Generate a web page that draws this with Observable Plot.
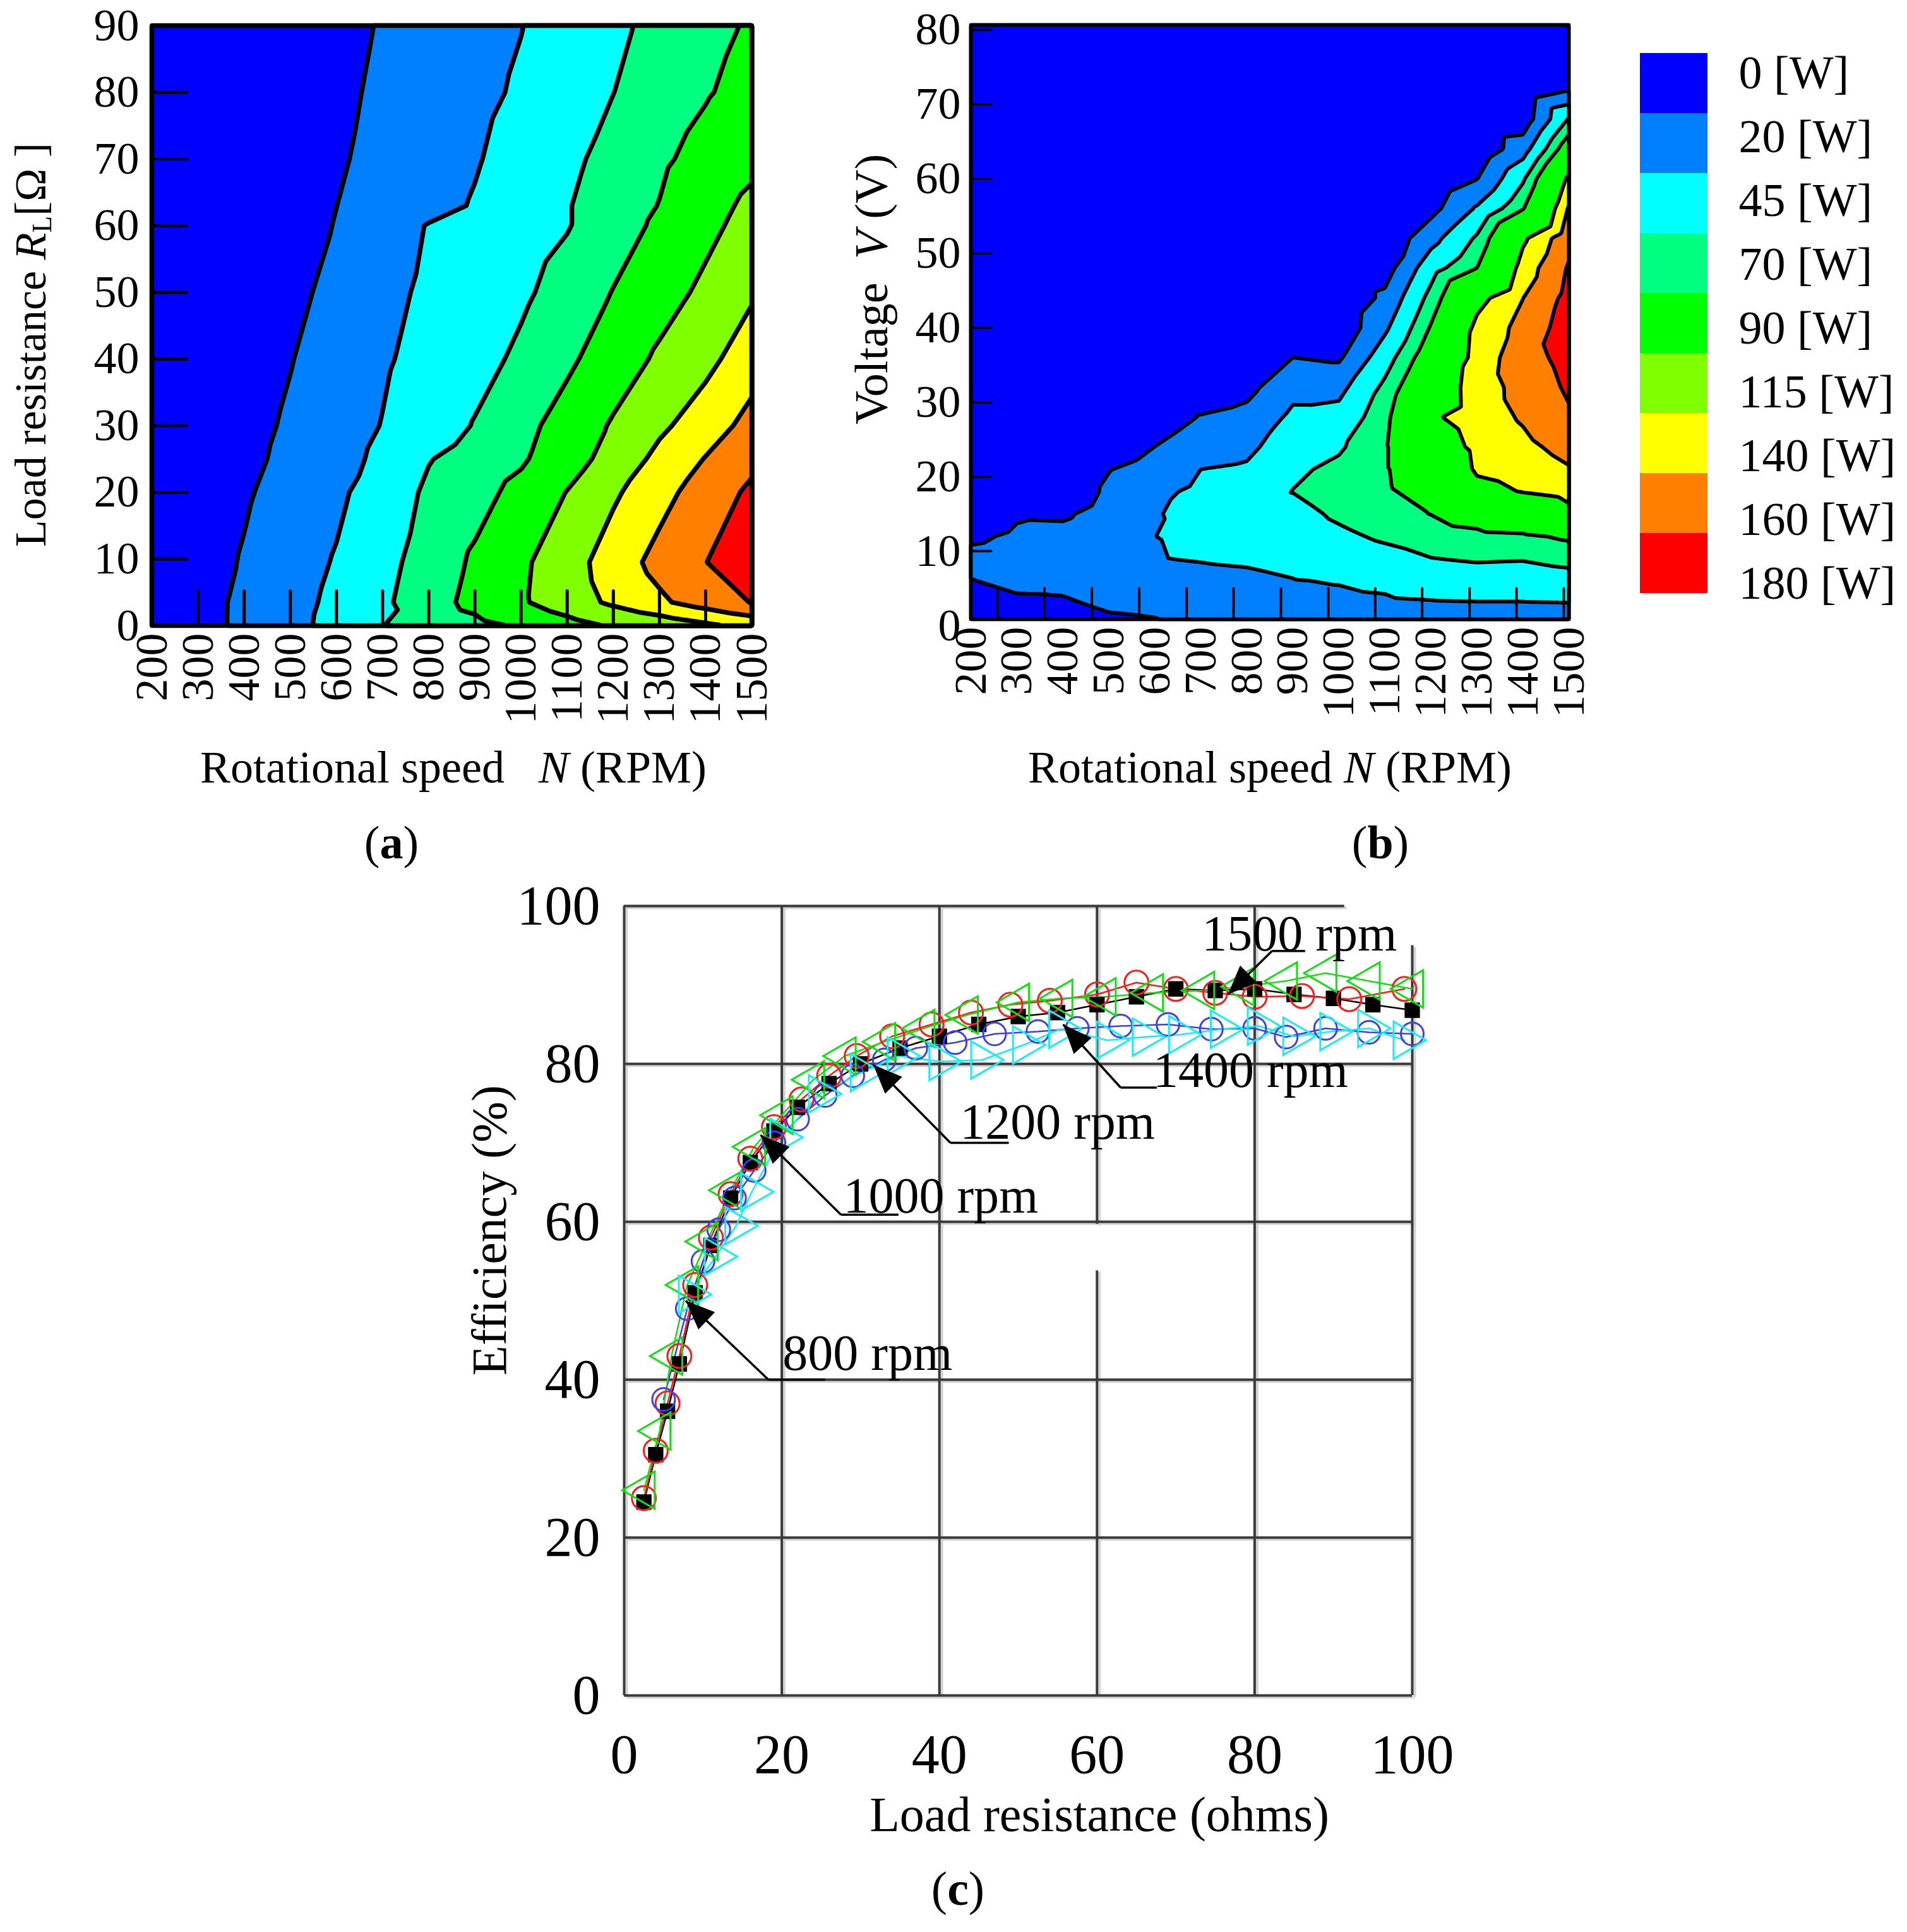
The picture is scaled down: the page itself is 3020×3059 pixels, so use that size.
<!DOCTYPE html>
<html lang="en">
<head>
<meta charset="utf-8">
<title>Generator output power and efficiency</title>
<script src="https://cdn.jsdelivr.net/npm/d3@7"></script>
<script src="https://cdn.jsdelivr.net/npm/@observablehq/plot@0.6"></script>
<style>
  body { margin: 0; background: #fff; }
  #page {
    position: relative;
    width: 3020px;
    height: 3059px;
    background: #fff;
    font-family: 'Liberation Serif', 'Times New Roman', serif;
    color: #000;
    overflow: hidden;
  }
  .panel { position: absolute; }
  .lbl {
    position: absolute;
    white-space: nowrap;
    line-height: 1;
    transform: translate(-50%, -50%);
  }
  .rot { transform: translate(-50%, -50%) rotate(-90deg); }
  .lbl sub { font-size: 0.62em; vertical-align: -0.2em; line-height: 0; }
</style>
</head>
<body>
<div id="page">
  <div id="panelA" class="panel" style="left:0px; top:0px;"></div>
  <div id="panelB" class="panel" style="left:1300px; top:0px;"></div>
  <div id="legendSw" class="panel" style="left:2597px; top:82px;"></div>
  <div id="legendTx" class="panel" style="left:2753px; top:0px;"></div>
  <div id="panelC" class="panel" style="left:700px; top:1300px;"></div>

  <div class="lbl rot" style="left:49px; top:546px; font-size:70px;">Load resistance <i>R</i><sub>L</sub>[Ω ]</div>
  <div class="lbl" style="left:718px; top:1215px; font-size:72px;">Rotational speed&nbsp;&nbsp;&nbsp;<i>N</i>&nbsp;(RPM)</div>
  <div class="lbl" style="left:620px; top:1334px; font-size:74px;">(<b>a</b>)</div>

  <div class="lbl rot" style="left:1380px; top:458px; font-size:74px;">Voltage&nbsp;&nbsp;<i>V</i>&nbsp;(V)</div>
  <div class="lbl" style="left:2011px; top:1215px; font-size:72px;">Rotational speed <i>N</i> (RPM)</div>
  <div class="lbl" style="left:2186px; top:1334px; font-size:74px;">(<b>b</b>)</div>

  <div class="lbl rot" style="left:775px; top:1948px; font-size:78px;">Efficiency (%)</div>
  <div class="lbl" style="left:1741px; top:2873px; font-size:78px;">Load resistance (ohms)</div>
  <div class="lbl" style="left:1517px; top:2990px; font-size:76px;">(<b>c</b>)</div>
</div>

<script>
  // ---- shared ----
  const speeds = [200, 300, 400, 500, 600, 700, 800, 900, 1000, 1100, 1200, 1300, 1400, 1500];
  const levels = [0, 20, 45, 70, 90, 115, 140, 160, 180];
  const levelColors = ["#0000ff", "#0080ff", "#00ffff", "#00ff80", "#00ff00", "#80ff00", "#ffff00", "#ff8000", "#ff0000"];

  // ---- (a) power vs speed and load resistance, one row per resistance ----
  const resistanceRows = [0, 3.5, 9.5, 20, 25, 30, 40, 50, 60, 63, 70, 80, 90];
  const powerA = [
    [0, 12, 24.7, 37.8, 52.7, 69.7, 77.1, 84.2, 92.6, 105.8, 117.8, 127.0, 136.3, 145.6],
    [0, 12, 24.5, 36.8, 50.5, 66.6, 81.3, 96.2, 112.0, 128.7, 144.2, 156.8, 168.9, 180.7],
    [0, 10.6, 21.8, 34.1, 46.9, 63.8, 78.6, 93.0, 110.3, 130.7, 150.1, 166.0, 179.6, 193.6],
    [0, 7.5, 17.5, 28.7, 40.2, 57.3, 73.7, 83.3, 95.9, 115.8, 136.8, 153.7, 169.0, 183.7],
    [0, 5, 14.4, 25.6, 36.8, 50.1, 69.0, 78.5, 87.3, 103.4, 125, 146, 160.8, 175],
    [0, 3, 12.7, 23.1, 34.4, 45.8, 58.6, 71.2, 83.5, 98.9, 117.7, 135.8, 151.2, 165.9],
    [0, 0, 9.2, 19.1, 30.7, 42.2, 52.8, 63.0, 73.8, 85.9, 101.9, 119.0, 134.0, 152],
    [0, 0, 4.9, 14.4, 26.1, 38.5, 49.2, 57.9, 66.6, 77.8, 90.7, 105.0, 120.1, 137.1],
    [0, 0, 0, 11.6, 20.9, 33.9, 46.2, 53.1, 61.0, 68.9, 81.3, 93.6, 108.8, 124],
    [0, 0, 0, 11.1, 19.9, 28.7, 37.5, 46.7, 57.8, 68.9, 79.7, 90.6, 105.6, 120.6],
    [0, 0, 0, 9.1, 17.6, 26.1, 34.7, 43.2, 54.1, 65.7, 76.3, 86.4, 97.4, 108.9],
    [0, 0, 0, 7.8, 15.7, 23.6, 31.4, 39.3, 48.0, 58.9, 69.8, 79.1, 88.3, 97.6],
    [0, 0, 0, 6.2, 13.8, 21.5, 29.1, 36.7, 44.4, 55.0, 65.9, 75.3, 83.8, 92.3]
  ];
  const aTickR = [10, 20, 30, 40, 50, 60, 70, 80];
  const aLabelR = [0, 10, 20, 30, 40, 50, 60, 70, 80, 90];
  const aTickN = [300, 400, 500, 600, 700, 800, 900, 1000, 1100, 1200, 1300, 1400];

  // ---- (b) power vs speed and voltage, one array per speed ----
  const voltageRows = [0, 3, 6, 9, 12, 15, 18, 21, 24, 28, 32, 36, 40, 44, 48, 52, 56, 60, 64, 68, 72, 76, 81];
  const powerB = [
    [5, 12, 19.3, 27, 15.4, 2.5, 0, 0, 0, 0, 0, 0, 0, 0, 0, 0, 0, 0, 0, 0, 0, 0, 0],
    [6, 16.5, 24.4, 31, 24, 17, 2, 0, 0, 0, 0, 0, 0, 0, 0, 0, 0, 0, 0, 0, 0, 0, 0],
    [8, 17, 26, 33, 28, 16, 1, 0, 0, 0, 0, 0, 0, 0, 0, 0, 0, 0, 0, 0, 0, 0, 0],
    [14, 24, 31.5, 38, 37, 31, 25, 19, 5, 0, 0, 0, 0, 0, 0, 0, 0, 0, 0, 0, 0, 0, 0],
    [16, 27, 36, 44.5, 44.8, 43, 40, 30, 20.2, 6, 0, 0, 0, 0, 0, 0, 0, 0, 0, 0, 0, 0, 0],
    [24, 31.5, 39, 46.2, 52.2, 54.4, 49.7, 45, 34.9, 21.4, 5, 0, 0, 0, 0, 0, 0, 0, 0, 0, 0, 0, 0],
    [30, 35.6, 41.3, 47.4, 54.7, 62, 55, 48, 39.7, 27.2, 13, 0, 0, 0, 0, 0, 0, 0, 0, 0, 0, 0, 0],
    [34, 39.8, 44.3, 50.2, 56.2, 62.1, 70.5, 66, 58.4, 50, 37.9, 20, 3, 0, 0, 0, 0, 0, 0, 0, 0, 0, 0],
    [36, 40.7, 46, 55.6, 65.2, 74, 82, 75, 67, 53.7, 37.7, 16.5, 1.7, 0, 0, 0, 0, 0, 0, 0, 0, 0, 0],
    [38, 42.1, 49, 62, 73.7, 83, 85.7, 87.3, 87.3, 83.7, 75, 59.3, 40.5, 25.3, 9, 1, 0, 0, 0, 0, 0, 0, 0],
    [40, 43.4, 54.6, 69.5, 80, 90.4, 102.1, 113.9, 125.7, 136.8, 121.8, 106.8, 91.9, 77.5, 60.6, 36.2, 12, 0, 0, 0, 0, 0, 0],
    [40, 44, 57.2, 72.7, 84.2, 101.7, 133, 143, 144.9, 149.6, 150, 148, 146, 132, 90, 73.3, 47.8, 19.3, 1.7, 0, 0, 0, 0],
    [40, 44, 57, 71.6, 86.4, 115, 141, 148, 155, 162.3, 167, 172, 166, 159.7, 148.8, 136, 88.5, 66.7, 33.7, 5, 0, 0, 0],
    [40, 44.5, 60.7, 76.8, 93.6, 133, 147.6, 158.5, 166.9, 177.6, 182.8, 186.4, 190, 186, 182, 174.2, 162, 145.3, 106.7, 72, 18, 0, 0]
  ];
  const bLevels = [0, 20, 45, 70, 90, 140, 160, 180];
  const bTickV = [10, 20, 30, 40, 50, 60, 70, 80];
  const bLabelV = [0, 10, 20, 30, 40, 50, 60, 70, 80];
  const bTickN = [258, 360, 463, 566, 669, 771, 874, 977, 1079, 1181, 1284, 1386, 1489];

  // ---- (c) efficiency vs load resistance ----
  const blackR = [2.5, 4, 5.5, 7, 9, 11, 13.5, 16, 19, 22, 26, 30, 35, 40, 45, 50, 55, 60, 65, 70, 75, 80, 85, 90, 95, 100];
  const blackE = [24.5, 30.5, 36, 42, 51, 57, 63, 67.5, 71.5, 74.5, 77.5, 80, 82, 83.5, 85, 86, 86.5, 87.5, 88.5, 89.5, 89.3, 89.5, 88.8, 88.3, 87.5, 86.8];
  const redR = [2.5, 4, 5.5, 7, 9, 11, 13.5, 16, 19, 22.5, 26, 29.5, 34, 39, 44, 49, 54, 60, 65, 70, 75, 80, 86, 92, 99];
  const redE = [25, 31, 37, 43, 52, 58, 63.5, 68, 72, 75.5, 78.5, 81, 83.5, 85, 86.5, 87.5, 88, 88.8, 90.3, 89.5, 89, 88.5, 88.6, 88.2, 89.5];
  const blueR = [5, 8, 10, 12, 14, 16.5, 19, 22, 25.5, 29, 33, 37, 42, 47, 52.5, 57.5, 63, 69, 74.5, 80, 84, 89, 94.5, 100];
  const blueE = [37.5, 49, 55, 59, 63, 66.5, 70, 73, 76, 78.5, 80.5, 82, 82.7, 83.8, 84.1, 84.5, 84.8, 85, 84.4, 84.5, 83.4, 84.5, 84, 83.8];
  const greenR = [2.5, 4.5, 6, 8, 10.5, 13.5, 16.5, 20, 24, 28, 33, 38, 43.5, 50, 55.5, 61, 67, 73.5, 78.5, 84, 89, 94.5, 100];
  const greenE = [26, 33.5, 43, 52, 57.5, 64, 69.5, 73.5, 78, 81, 82.8, 84.5, 86.2, 87.8, 88.3, 88.5, 89, 89.3, 89.8, 90.5, 91.5, 90.5, 89.5];
  const cyanR = [8.3, 11.6, 14.2, 16.2, 19.9, 24.8, 30.1, 34.8, 40.1, 45.4, 50.7, 55.3, 61.3, 65.9, 70.5, 75.8, 80.5, 85, 89.7, 94.5, 99];
  const cyanE = [50.8, 55.6, 59.5, 63.8, 70.7, 76.2, 78.9, 81, 80.3, 80.5, 82.4, 84.4, 83, 83.4, 83.7, 84.4, 84.8, 83.5, 84.1, 84.5, 83];

  const cTicks = [0, 20, 40, 60, 80, 100];
  // grid segments of panel (c), in data units (top and right borders are cut short, the 60 line has a gap)
  const gridVertical = [
    {x: 0, y1: 0, y2: 100}, {x: 20, y1: 0, y2: 100}, {x: 40, y1: 0, y2: 100},
    {x: 60, y1: 0, y2: 53.8}, {x: 60, y1: 59.7, y2: 100}, {x: 80, y1: 0, y2: 100}, {x: 100, y1: 0, y2: 95}
  ];
  const gridHorizontal = [
    {y: 0, x1: 0, x2: 100}, {y: 20, x1: 0, x2: 100}, {y: 40, x1: 0, x2: 100},
    {y: 60, x1: 0, x2: 100}, {y: 80, x1: 0, x2: 100}, {y: 100, x1: 0, x2: 91.4}
  ];

  const noteLabels = ["800 rpm", "1000 rpm", "1200 rpm", "1400 rpm", "1500 rpm"];
  const noteTip = [[7.8, 50.0], [17.3, 71.0], [31.6, 79.9], [55.7, 85.0], [76.6, 88.8]];
  const noteElbow = [[18.3, 40.0], [27.5, 60.9], [41.4, 70.0], [63.0, 77.0], [82.2, 94.3]];
  const noteLineEnd = [25.5, 34.8, 48.8, 67.6, 86.4];
  const noteText = [[20.1, 43.3], [27.8, 63.2], [42.6, 72.6], [67.1, 79.1], [73.3, 96.4]];

  // ---- build tables ----
  const gridA = resistanceRows.flatMap((r, j) => speeds.map((n, i) => ({n, r, p: powerA[j][i]})));
  const gridB = speeds.flatMap((n, i) => voltageRows.map((v, j) => ({n, v, p: powerB[i][j]})));
  const pts = (xs, ys) => xs.map((x, i) => ({x, y: ys[i]}));
  const notes = noteLabels.map((label, i) => ({
    label,
    tx: noteTip[i][0], ty: noteTip[i][1],
    ex: noteElbow[i][0], ey: noteElbow[i][1],
    ux: noteLineEnd[i],
    lx: noteText[i][0], ly: noteText[i][1]
  }));

  const serif = "'Liberation Serif', 'Times New Roman', serif";
  const baseStyle = {fontFamily: serif, fontSize: "72px", color: "black", background: "transparent", overflow: "visible"};
  const colorScale = {type: "threshold", domain: levels.slice(1), range: levelColors};
  const tickLine = {draw(context, l) { context.moveTo(0, 0); context.lineTo(0, -l); }};
  const arrowHead = {draw(context) { context.moveTo(0, 0); context.lineTo(-19, 46); context.lineTo(19, 46); context.closePath(); }};

  // ---- panel (a) ----
  const plotA = Plot.plot({
    width: 1230, height: 1210,
    marginLeft: 240, marginRight: 40, marginTop: 40, marginBottom: 220,
    style: baseStyle,
    x: {domain: [200, 1500]},
    y: {domain: [0, 90]},
    color: colorScale,
    marks: [
      Plot.frame({fill: levelColors[0], stroke: "none"}),
      Plot.contour(gridA, {x: "n", y: "r", fill: "p", thresholds: levels, interpolate: "barycentric",
        stroke: "black", strokeWidth: 7.5, strokeLinejoin: "round"}),
      Plot.vector(aTickR, {y: d => d, frameAnchor: "left", rotate: 90, length: 55, anchor: "start",
        shape: tickLine, stroke: "black", strokeWidth: 5}),
      Plot.vector(aTickN, {x: d => d, frameAnchor: "bottom", length: 55, anchor: "start",
        shape: tickLine, stroke: "black", strokeWidth: 5}),
      Plot.frame({stroke: "black", strokeWidth: 6}),
      Plot.axisY(aLabelR, {tickSize: 0, tickPadding: 20, fontSize: 72, label: null, tickFormat: "d"}),
      Plot.axisX(speeds, {tickSize: 0, tickPadding: 12, tickRotate: -90, fontSize: 72, label: null, tickFormat: "d"})
    ]
  });
  document.getElementById("panelA").appendChild(plotA);

  // ---- panel (b) ----
  const plotB = Plot.plot({
    width: 1234, height: 1200,
    marginLeft: 237, marginRight: 50, marginTop: 39, marginBottom: 220,
    style: baseStyle,
    x: {domain: [200, 1500]},
    y: {domain: [0.85, 80.65]},
    color: colorScale,
    marks: [
      Plot.frame({fill: levelColors[0], stroke: "none"}),
      Plot.contour(gridB, {x: "n", y: "v", fill: "p", thresholds: bLevels, interpolate: "barycentric",
        stroke: "black", strokeWidth: 6, strokeLinejoin: "round"}),
      Plot.vector(bTickV, {y: d => d, frameAnchor: "left", rotate: 90, length: 32, anchor: "start",
        shape: tickLine, stroke: "black", strokeWidth: 4}),
      Plot.vector(bTickN, {x: d => d, frameAnchor: "bottom", length: 49, anchor: "start",
        shape: tickLine, stroke: "black", strokeWidth: 4}),
      Plot.frame({stroke: "black", strokeWidth: 5}),
      Plot.axisY(bLabelV, {tickSize: 0, tickPadding: 16, fontSize: 72, label: null, tickFormat: "d"}),
      Plot.axisX(speeds, {tickSize: 0, tickPadding: 12, tickRotate: -90, fontSize: 72, label: null, tickFormat: "d"})
    ]
  });
  document.getElementById("panelB").appendChild(plotB);

  // ---- legend ----
  const legendSw = Plot.plot({
    width: 107, height: 859, margin: 0,
    style: baseStyle,
    y: {type: "band", domain: levels, padding: 0, axis: null},
    color: colorScale,
    marks: [Plot.cell(levels, {y: d => d, fill: d => d})]
  });
  document.getElementById("legendSw").appendChild(legendSw);

  const legendTx = Plot.plot({
    width: 267, height: 987,
    marginTop: 113, marginBottom: 60, marginLeft: 0, marginRight: 0,
    style: baseStyle,
    y: {type: "point", domain: levels, padding: 0, axis: null},
    marks: [Plot.text(levels, {y: d => d, text: d => `${d} [W]`, frameAnchor: "left", textAnchor: "start", fontSize: 74})]
  });
  document.getElementById("legendTx").appendChild(legendTx);

  // ---- panel (c) ----
  const series = [
    {data: pts(blackR, blackE), color: "#000000", symbol: "square", r: 12, fill: "#000000", rotate: 0},
    {data: pts(redR, redE), color: "#ff1a1a", symbol: "circle", r: 19, fill: "none", rotate: 0},
    {data: pts(blueR, blueE), color: "#3c3cff", symbol: "circle", r: 18, fill: "none", rotate: 0},
    {data: pts(greenR, greenE), color: "#10e010", symbol: "triangle", r: 22, fill: "none", rotate: -90},
    {data: pts(cyanR, cyanE), color: "#10f0f8", symbol: "triangle", r: 22, fill: "none", rotate: 90}
  ];

  const plotC = Plot.plot({
    width: 1686, height: 1634,
    marginLeft: 288, marginRight: 150, marginTop: 134, marginBottom: 250,
    style: baseStyle,
    x: {domain: [0, 100]},
    y: {domain: [0, 100]},
    marks: [
      Plot.ruleX(gridVertical, {x: "x", y1: "y1", y2: "y2", stroke: "#d4d4d4", strokeWidth: 4, dx: 4, dy: 3}),
      Plot.ruleY(gridHorizontal, {y: "y", x1: "x1", x2: "x2", stroke: "#d4d4d4", strokeWidth: 4, dx: 4, dy: 3}),
      Plot.ruleX(gridVertical, {x: "x", y1: "y1", y2: "y2", stroke: "#3a3a3a", strokeWidth: 4}),
      Plot.ruleY(gridHorizontal, {y: "y", x1: "x1", x2: "x2", stroke: "#3a3a3a", strokeWidth: 4}),
      ...series.map(s => Plot.line(s.data, {x: "x", y: "y", stroke: s.color, strokeWidth: 2.5})),
      ...series.map(s => Plot.dot(s.data, {x: "x", y: "y", symbol: s.symbol, r: s.r, rotate: s.rotate,
        stroke: s.color, fill: s.fill, strokeWidth: 3})),
      Plot.link(notes, {x1: "ex", y1: "ey", x2: "tx", y2: "ty", stroke: "black", strokeWidth: 3.5}),
      Plot.link(notes, {x1: "ex", y1: "ey", x2: "ux", y2: "ey", stroke: "black", strokeWidth: 3.5}),
      Plot.dot(notes, {x: "tx", y: "ty", symbol: arrowHead, fill: "black", stroke: "none",
        rotate: d => Math.atan2(d.tx - d.ex, d.ty - d.ey) * 180 / Math.PI}),
      Plot.text(notes, {x: "lx", y: "ly", text: "label", textAnchor: "start", fontSize: 80}),
      Plot.axisY(cTicks, {tickSize: 0, tickPadding: 38, fontSize: 88, label: null}),
      Plot.axisX(cTicks, {tickSize: 0, tickPadding: 60, fontSize: 88, label: null})
    ]
  });
  document.getElementById("panelC").appendChild(plotC);
</script>
</body>
</html>
